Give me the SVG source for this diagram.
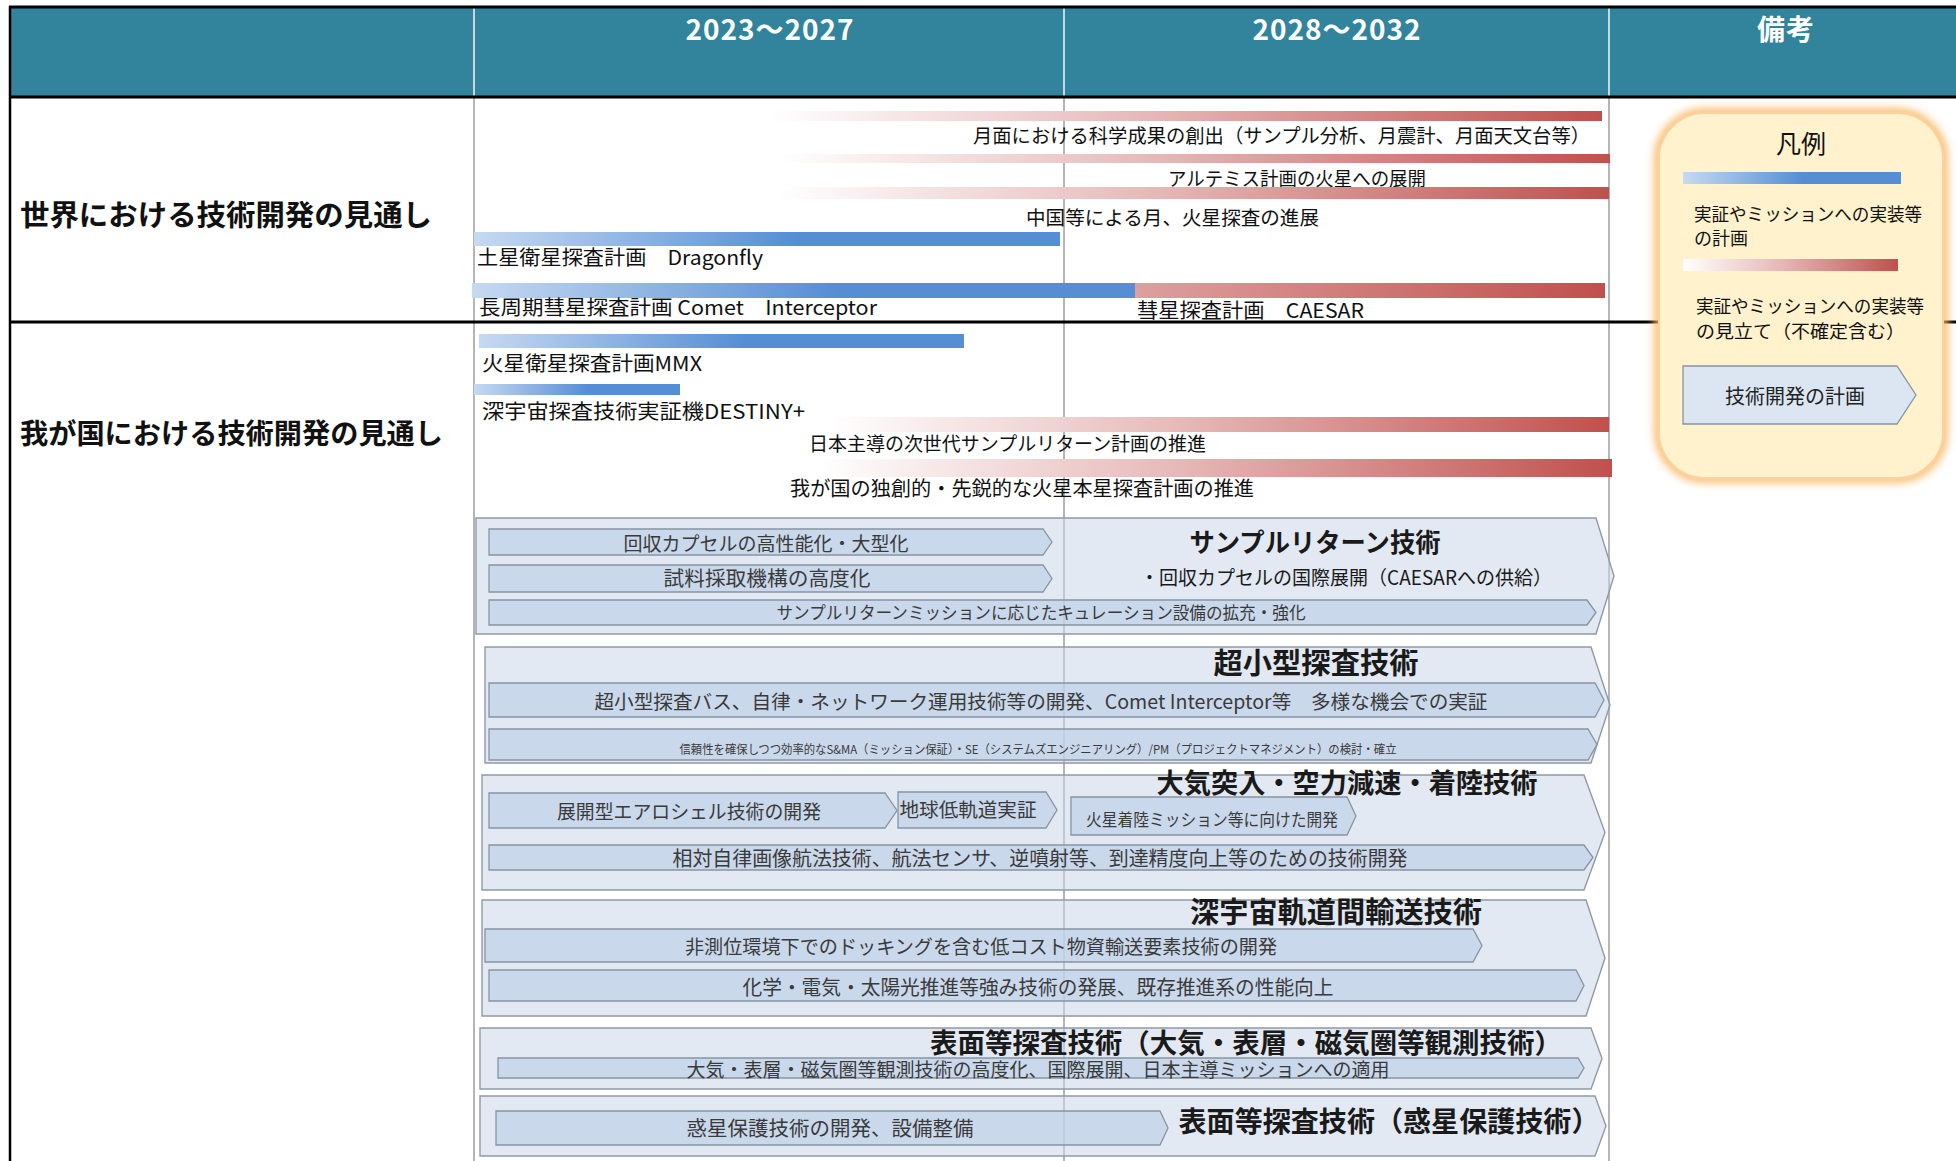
<svg xmlns="http://www.w3.org/2000/svg" width="1956" height="1161" viewBox="0 0 1956 1161">
<style>
text{font-family:"Noto Sans CJK JP","Noto Sans",sans-serif;dominant-baseline:central;}
.hd{fill:#fff;font-weight:700;font-size:28px;text-anchor:middle;letter-spacing:1px}
.lbl{fill:#111;font-weight:700}
.t{fill:#111}
.at{fill:#3a3a3a;text-anchor:middle}
.st{text-anchor:start}
.ttl{fill:#1a1a1a;font-weight:700;text-anchor:middle}
.panel{fill:#cad7e8;fill-opacity:0.55;stroke:#8f9aa6;stroke-width:1.4}
.arr{fill:#bdd0e7;fill-opacity:0.65;stroke:#8794a2;stroke-width:1.3}
.grid{stroke:#9c9c9c;stroke-width:1.5}
.hgrid{stroke:#ffffff;stroke-width:1.4}
.blk{stroke:#000;stroke-width:3}
</style>
<defs>
<linearGradient id="gBlue" x1="0" y1="0" x2="1" y2="0">
<stop offset="0" stop-color="#c6d9f1"/><stop offset="0.55" stop-color="#558ed5"/><stop offset="1" stop-color="#558ed5"/>
</linearGradient>
<linearGradient id="gRed" x1="0" y1="0" x2="1" y2="0">
<stop offset="0" stop-color="#ffffff"/><stop offset="0.45" stop-color="#e6b9b8"/><stop offset="1" stop-color="#c0504d"/>
</linearGradient>
<linearGradient id="gRed2" x1="0" y1="0" x2="1" y2="0">
<stop offset="0" stop-color="#dda09f"/><stop offset="1" stop-color="#c0504d"/>
</linearGradient>
<filter id="glow" x="-10%" y="-10%" width="120%" height="120%">
<feGaussianBlur stdDeviation="4"/>
</filter>
</defs>

<rect width="1956" height="1161" fill="#ffffff"/>

<g id="table">
<rect x="10" y="7" width="1946" height="90" fill="#31849b"/>
<line class="hgrid" x1="474" y1="7" x2="474" y2="97"/>
<line class="hgrid" x1="1064" y1="7" x2="1064" y2="97"/>
<line class="hgrid" x1="1609" y1="7" x2="1609" y2="97"/>
<line class="grid" x1="474" y1="97" x2="474" y2="1161"/>
<line class="grid" x1="1064" y1="97" x2="1064" y2="1161"/>
<line class="grid" x1="1609" y1="97" x2="1609" y2="1161"/>
<line class="blk" x1="9" y1="7" x2="1956" y2="7"/>
<line class="blk" x1="9" y1="97" x2="1956" y2="97"/>
<line class="blk" x1="9" y1="322" x2="1956" y2="322"/>
<line x1="10" y1="6" x2="10" y2="1161" stroke="#000" stroke-width="2.5"/>
<text class="hd" x="770" y="28">2023～2027</text>
<text class="hd" x="1337" y="28">2028～2032</text>
<text class="hd" x="1786" y="28">備考</text>
<text class="lbl" x="20" y="213" font-size="29" textLength="412" lengthAdjust="spacingAndGlyphs">世界における技術開発の見通し</text>
<text class="lbl" x="20" y="432" font-size="28" textLength="423" lengthAdjust="spacingAndGlyphs">我が国における技術開発の見通し</text>
</g>

<g id="world">
<g id="moon-science">
<rect x="770" y="111" width="832" height="10" fill="url(#gRed)"/>
<text class="t" x="973" y="134" font-size="19.5" textLength="617" lengthAdjust="spacingAndGlyphs">月面における科学成果の創出（サンプル分析、月震計、月面天文台等）</text>
</g>
<g id="artemis">
<rect x="780" y="154" width="830" height="9" fill="url(#gRed)"/>
<text class="t" x="1168" y="177" font-size="19" textLength="258" lengthAdjust="spacingAndGlyphs">アルテミス計画の火星への展開</text>
</g>
<g id="china">
<rect x="777" y="187" width="832" height="12" fill="url(#gRed)"/>
<text class="t" x="1026" y="216" font-size="19.5" textLength="293" lengthAdjust="spacingAndGlyphs">中国等による月、火星探査の進展</text>
</g>
<g id="dragonfly">
<rect x="474" y="232" width="586" height="14" fill="url(#gBlue)"/>
<text class="t" x="477" y="256" font-size="20" textLength="286" lengthAdjust="spacingAndGlyphs">土星衛星探査計画　Dragonfly</text>
</g>
<g id="comet">
<rect x="472" y="283" width="663" height="15" fill="url(#gBlue)"/>
<rect x="1135" y="283" width="470" height="15" fill="url(#gRed2)"/>
<text class="t" x="479" y="306" font-size="20" textLength="398" lengthAdjust="spacingAndGlyphs">長周期彗星探査計画 Comet　Interceptor</text>
<text class="t" x="1137" y="309" font-size="20" textLength="227" lengthAdjust="spacingAndGlyphs">彗星探査計画　CAESAR</text>
</g>
</g>

<g id="japan">
<g id="mmx">
<rect x="479" y="334" width="485" height="14" fill="url(#gBlue)"/>
<text class="t" x="482" y="362" font-size="20.5" textLength="220" lengthAdjust="spacingAndGlyphs">火星衛星探査計画MMX</text>
</g>
<g id="destiny">
<rect x="474" y="384" width="206" height="11" fill="url(#gBlue)"/>
<text class="t" x="482" y="410" font-size="20.5" textLength="323" lengthAdjust="spacingAndGlyphs">深宇宙探査技術実証機DESTINY+</text>
</g>
<g id="sample-return-plan">
<rect x="830" y="417" width="779" height="15" fill="url(#gRed)"/>
<text class="t" x="809" y="442" font-size="19" textLength="397" lengthAdjust="spacingAndGlyphs">日本主導の次世代サンプルリターン計画の推進</text>
</g>
<g id="mars-plan">
<rect x="820" y="459" width="792" height="18" fill="url(#gRed)"/>
<text class="t" x="790" y="487" font-size="20" textLength="464" lengthAdjust="spacingAndGlyphs">我が国の独創的・先鋭的な火星本星探査計画の推進</text>
</g>
</g>

<g id="panel-sample-return">
<polygon class="panel" points="476,518 1596,518 1614,576 1596,634 476,634"/>
<polygon class="arr" points="489,529 1043,529 1052,542 1043,555 489,555"/>
<text class="at" x="766" y="542" font-size="19" textLength="285" lengthAdjust="spacingAndGlyphs">回収カプセルの高性能化・大型化</text>
<polygon class="arr" points="489,565 1043,565 1052,578.5 1043,592 489,592"/>
<text class="at" x="767" y="577" font-size="20" textLength="207" lengthAdjust="spacingAndGlyphs">試料採取機構の高度化</text>
<polygon class="arr" points="489,600 1587,600 1596,612.5 1587,625 489,625"/>
<text class="at" x="1041" y="611" font-size="17.5" textLength="529" lengthAdjust="spacingAndGlyphs">サンプルリターンミッションに応じたキュレーション設備の拡充・強化</text>
<text class="ttl" x="1315" y="540" font-size="26" textLength="251" lengthAdjust="spacingAndGlyphs">サンプルリターン技術</text>
<text class="at" x="1346" y="576" font-size="19.5" style="fill:#1a1a1a" textLength="412" lengthAdjust="spacingAndGlyphs">・回収カプセルの国際展開（CAESARへの供給）</text>
</g>

<g id="panel-micro">
<polygon class="panel" points="485,647 1591,647 1610,705 1591,763 485,763"/>
<text class="ttl" x="1316" y="661" font-size="29" textLength="205" lengthAdjust="spacingAndGlyphs">超小型探査技術</text>
<polygon class="arr" points="489,683 1595,683 1604,700 1595,717 489,717"/>
<text class="at" x="1041" y="700" font-size="19.5" textLength="893" lengthAdjust="spacingAndGlyphs">超小型探査バス、自律・ネットワーク運用技術等の開発、Comet Interceptor等　多様な機会での実証</text>
<polygon class="arr" points="489,729 1588,729 1597,744.5 1588,760 489,760"/>
<text class="at" x="1038" y="748" font-size="12" textLength="717" lengthAdjust="spacingAndGlyphs">信頼性を確保しつつ効率的なS&amp;MA（ミッション保証）・SE（システムズエンジニアリング）/PM（プロジェクトマネジメント）の検討・確立</text>
</g>

<g id="panel-edl">
<polygon class="panel" points="482,775 1584,775 1605,832.5 1584,890 482,890"/>
<polygon class="arr" points="489,793 885,793 897,810.5 885,828 489,828"/>
<text class="at" x="689" y="810" font-size="19.5" textLength="264" lengthAdjust="spacingAndGlyphs">展開型エアロシェル技術の開発</text>
<polygon class="arr" points="898,792 1046,792 1057,810 1046,828 898,828"/>
<text class="at" x="968" y="808" font-size="19.5" textLength="137" lengthAdjust="spacingAndGlyphs">地球低軌道実証</text>
<polygon class="arr" points="1071,797 1347,797 1356,816 1347,835 1071,835"/>
<text class="at st" x="1086" y="818" font-size="17" textLength="252" lengthAdjust="spacingAndGlyphs">火星着陸ミッション等に向けた開発</text>
<polygon class="arr" points="489,845 1584,845 1593,857.5 1584,870 489,870"/>
<text class="at" x="1040" y="857" font-size="20" textLength="735" lengthAdjust="spacingAndGlyphs">相対自律画像航法技術、航法センサ、逆噴射等、到達精度向上等のための技術開発</text>
<text class="ttl" x="1347" y="781" font-size="27" textLength="381" lengthAdjust="spacingAndGlyphs">大気突入・空力減速・着陸技術</text>
</g>

<g id="panel-transport">
<polygon class="panel" points="482,900 1586,900 1605,958 1586,1016 482,1016"/>
<text class="ttl" x="1336" y="910" font-size="29" textLength="292" lengthAdjust="spacingAndGlyphs">深宇宙軌道間輸送技術</text>
<polygon class="arr" points="485,929 1473,929 1482,945.5 1473,962 485,962"/>
<text class="at" x="981" y="945" font-size="19.5" textLength="592" lengthAdjust="spacingAndGlyphs">非測位環境下でのドッキングを含む低コスト物資輸送要素技術の開発</text>
<polygon class="arr" points="489,970 1576,970 1584,985.5 1576,1001 489,1001"/>
<text class="at" x="1038" y="986" font-size="20" textLength="591" lengthAdjust="spacingAndGlyphs">化学・電気・太陽光推進等強み技術の発展、既存推進系の性能向上</text>
</g>

<g id="panel-surface-obs">
<polygon class="panel" points="480,1028 1591,1028 1602,1058.5 1591,1089 480,1089"/>
<polygon class="arr" points="498,1058 1578,1058 1584,1068 1578,1078 498,1078"/>
<text class="ttl" x="1246" y="1041" font-size="27" textLength="632" lengthAdjust="spacingAndGlyphs">表面等探査技術（大気・表層・磁気圏等観測技術）</text>
<text class="at" x="1038" y="1068" font-size="19" textLength="703" lengthAdjust="spacingAndGlyphs">大気・表層・磁気圏等観測技術の高度化、国際展開、日本主導ミッションへの適用</text>
</g>

<g id="panel-planetary-protection">
<polygon class="panel" points="480,1096 1595,1096 1606,1126 1595,1156 480,1156"/>
<polygon class="arr" points="496,1111 1160,1111 1168,1128 1160,1145 496,1145"/>
<text class="at" x="830" y="1127" font-size="20.5" textLength="287" lengthAdjust="spacingAndGlyphs">惑星保護技術の開発、設備整備</text>
<text class="ttl" x="1389" y="1120" font-size="28" textLength="421" lengthAdjust="spacingAndGlyphs">表面等探査技術（惑星保護技術）</text>
</g>

<g id="legend">
<rect x="1659" y="113" width="284" height="365" rx="46" fill="none" stroke="#f8b864" stroke-width="9" filter="url(#glow)"/>
<rect x="1659" y="113" width="284" height="365" rx="46" fill="#fff2cc" stroke="#fbd3a0" stroke-width="2"/>
<text class="t" x="1801" y="142" font-size="25" text-anchor="middle">凡例</text>
<rect x="1683" y="172" width="218" height="12" fill="url(#gBlue)"/>
<text class="t" x="1694" y="213" font-size="18" textLength="228" lengthAdjust="spacingAndGlyphs">実証やミッションへの実装等</text>
<text class="t" x="1694" y="237" font-size="18">の計画</text>
<rect x="1683" y="259" width="215" height="12" fill="url(#gRed)"/>
<text class="t" x="1696" y="305" font-size="18" textLength="228" lengthAdjust="spacingAndGlyphs">実証やミッションへの実装等</text>
<text class="t" x="1696" y="330" font-size="18" textLength="209" lengthAdjust="spacingAndGlyphs">の見立て（不確定含む）</text>
<polygon points="1683,366 1897,366 1916,395 1897,424 1683,424" fill="#dce6f2" stroke="#8794a2" stroke-width="1.3"/>
<text class="at" x="1795" y="395" font-size="20" style="fill:#222">技術開発の計画</text>
</g>
</svg>
